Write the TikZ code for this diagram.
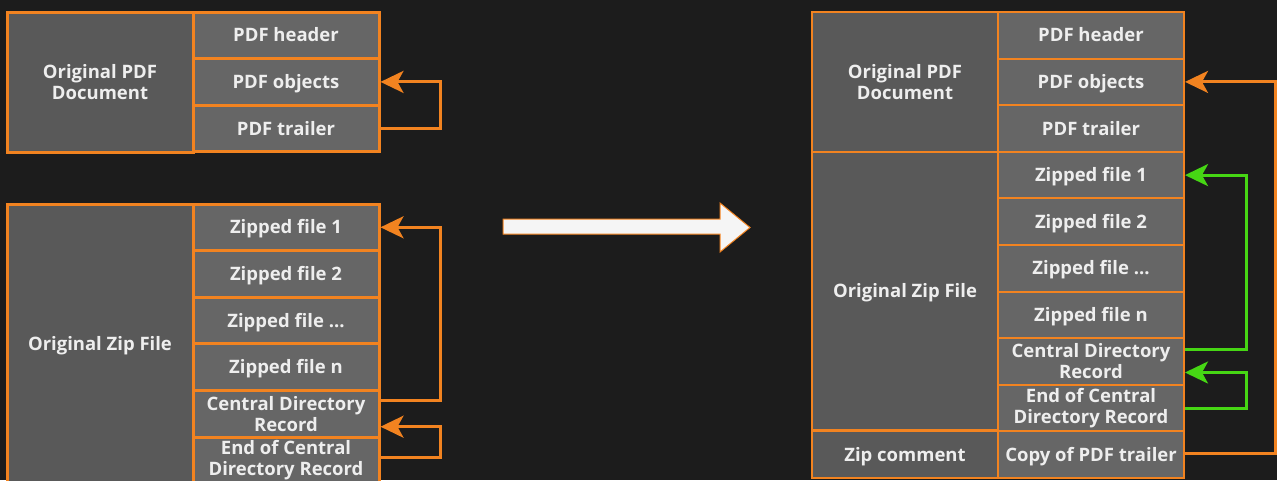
\documentclass[tikz,border=0pt]{standalone}
\usepackage{fontspec}
\setmainfont{Open Sans}
\usetikzlibrary{arrows.meta}

\definecolor{bgdark}{RGB}{28,28,28}
\definecolor{orng}{RGB}{242,131,32}
\definecolor{grn}{RGB}{70,214,20}
\definecolor{colgray}{RGB}{89,89,89}
\definecolor{cellgray}{RGB}{102,102,102}
\definecolor{txtwhite}{RGB}{238,238,238}

\begin{document}
\begin{tikzpicture}[
        x=1pt, y=-1pt,
        box/.style = {rectangle, draw=orng, text=txtwhite, align=center, inner sep=0pt,
                      font=\fontsize{18.5}{21}\selectfont\bfseries},
        oneline/.style = {text height=13.2pt, text depth=0pt},
        leftcol/.style = {box, fill=colgray, minimum width=186pt, minimum height=#1},
        cell/.style = {box, fill=cellgray, minimum width=186pt, minimum height=46.6pt},
        line1/.style = {cell, oneline},
        thick box/.style = {line width=3pt},
        thin box/.style = {line width=2pt},
        conn/.style = {line width=3pt, draw=#1, -{Stealth[length=23pt, width=22pt, inset=6pt]}},
        ]

        \clip (0,0) rectangle (1277,480);
        \fill[bgdark] (0,0) rectangle (1277,480);

        % original pdf
        \node (lpdf) at (100,82) [leftcol=140pt, thick box] {Original PDF\\Document};
        \node (lhead) at (286,35.3)    [line1, thick box] {PDF header};
        \node (lobjects) at (286,81.9) [line1, thick box] {PDF objects};
        \node (ltrailer) at (286,128.5) [line1, thick box] {PDF trailer};

        % original zip
        \node (lzipdoc) at (100,344) [leftcol=280pt, oneline, thick box] {Original Zip File};
        \node (lzip1) at (286,227.3) [line1, thick box] {Zipped file 1};
        \node (lzip2) at (286,273.9) [line1, thick box] {Zipped file 2};
        \node (lzipx) at (286,320.5) [line1, thick box] {Zipped file ...};
        \node (lzipn) at (286,367.1) [line1, thick box] {Zipped file n};
        \node (lcdr) at (286,413.7)  [cell, thick box] {Central Directory\\Record};
        \node (leocd) at (286,460.3) [cell, thick box] {End of Central\\Directory Record};

        \draw[conn=orng] (ltrailer.east) -- ++(60,0) |- (lobjects.east);
        \draw[conn=orng] ([yshift=13pt]lcdr.east) -- ++(60,0) |- (lzip1.east);
        \draw[conn=orng] ([yshift=3pt]leocd.east) -- ++(60,0) |- ([yshift=-13pt]lcdr.east);

        % big arrow
        \draw[orng, fill=white!96!black, line width=1pt]
            (503,219) -- (720,219) -- (720,203) -- (750,227.5) -- (720,252) -- (720,234) -- (503,234) -- cycle;

        % polyglot file
        \node (rpdf) at (905,82) [leftcol=140pt, thin box] {Original PDF\\Document};
        \node (rzipdoc) at (905,291) [leftcol=278pt, oneline, thin box] {Original Zip File};
        \node (rcomment) at (905,454.7) [leftcol=46.6pt, oneline, thin box] {Zip comment};
        \node (rhead) at (1091,35.3)     [line1, thin box] {PDF header};
        \node (robjects) at (1091,81.9)  [line1, thin box] {PDF objects};
        \node (rtrailer) at (1091,128.5) [line1, thin box] {PDF trailer};
        \node (rzip1) at (1091,175.1) [line1, thin box] {Zipped file 1};
        \node (rzip2) at (1091,221.7) [line1, thin box] {Zipped file 2};
        \node (rzipx) at (1091,268.3) [line1, thin box] {Zipped file ...};
        \node (rzipn) at (1091,314.9) [line1, thin box] {Zipped file n};
        \node (rcdr) at (1091,361.5)  [cell, thin box] {Central Directory\\Record};
        \node (reocd) at (1091,408.1) [cell, thin box] {End of Central\\Directory Record};
        \node (rcopy) at (1091,454.7) [line1, thin box] {Copy of PDF trailer};

        \draw[conn=orng] ([yshift=1pt]rcopy.east) -- ++(90,0) |- (robjects.east);
        \draw[conn=grn] ([yshift=12pt]rcdr.east) -- ++(61,0) |- (rzip1.east);
        \draw[conn=grn] (reocd.east) -- ++(61,0) |- ([yshift=-11pt]rcdr.east);
    \end{tikzpicture}
\end{document}
